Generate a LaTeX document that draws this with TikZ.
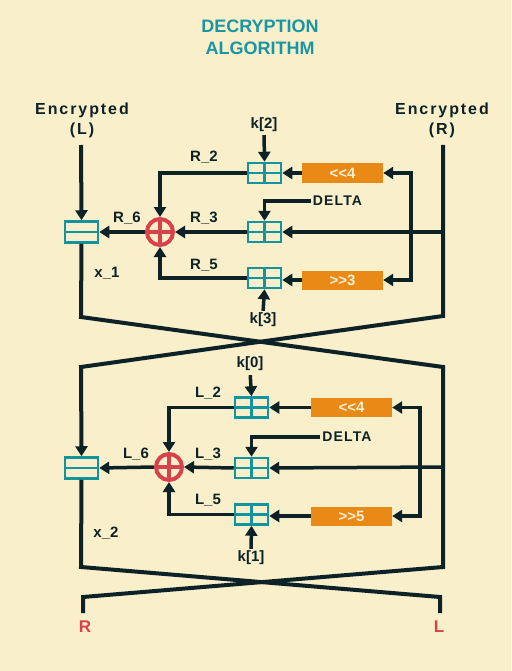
\documentclass[tikz,border=0pt]{standalone}
\usepackage{fontspec}
\setmainfont{Liberation Sans}
\newfontfamily\spacedA{Liberation Sans}[LetterSpace=12]
\newfontfamily\spacedB{Liberation Sans}[LetterSpace=8]
\newfontfamily\plainf{Liberation Sans}[Ligatures=TeXOff]
\usetikzlibrary{arrows.meta}
\definecolor{bg}{HTML}{F9EFCB}
\definecolor{ink}{HTML}{0C2226}
\definecolor{tealc}{HTML}{12949E}
\definecolor{titlec}{HTML}{1996A2}
\definecolor{orng}{HTML}{E98A17}
\definecolor{redc}{HTML}{D8434B}
\definecolor{cream}{HTML}{F8EDD2}
\begin{document}
\begin{tikzpicture}[x=1pt,y=-1pt,
  wire/.style={draw=ink, line width=4pt},
  tip/.tip={Triangle[length=10pt,width=12pt]},
  conn/.style={draw=ink, line width=3.5pt, -tip},
  lbl/.style={text=ink, font=\fontsize{15}{18}\selectfont\bfseries, inner sep=0pt},
  enc/.style={text=ink, font=\fontsize{16}{20}\selectfont\bfseries\spacedA, align=center, inner sep=0pt},
  gridbox/.style={draw=tealc, line width=2.5pt, minimum width=33pt, minimum height=20pt, inner sep=0pt,
    path picture={\draw[tealc, line width=2.5pt]
      (path picture bounding box.north) -- (path picture bounding box.south)
      (path picture bounding box.west) -- (path picture bounding box.east);}},
  splitbox/.style={draw=tealc, line width=2.5pt, minimum width=33pt, minimum height=21pt, inner sep=0pt,
    path picture={\draw[tealc, line width=2.5pt]
      (path picture bounding box.west) -- (path picture bounding box.east);}},
  xorc/.style={circle, draw=redc, line width=4pt, minimum size=26pt, inner sep=0pt,
    path picture={\draw[redc, line width=3.5pt]
      (path picture bounding box.north) -- (path picture bounding box.south)
      (path picture bounding box.west) -- (path picture bounding box.east);}},
  shiftbox/.style={fill=orng, minimum width=81pt, minimum height=19pt, inner sep=0pt,
    text=cream, font=\fontsize{15}{18}\selectfont\plainf\bfseries},
  deltal/.style={text=ink, font=\fontsize{14}{16}\selectfont\bfseries\spacedB, inner sep=2pt},
  outl/.style={text=redc, font=\fontsize{17}{20}\selectfont\bfseries, inner sep=0pt}
]
\path[use as bounding box, fill=bg] (0,0) rectangle (511,671);

% title
\node[text=titlec, font=\fontsize{18}{22}\selectfont\bfseries, align=center] (title) at (260,37) {DECRYPTION\\ALGORITHM};

% inputs
\node[enc] (encL) at (82,120) {Encrypted\\(L)};
\node[enc] (encR) at (442,120) {Encrypted\\(R)};
\coordinate (lTop) at (81,145);
\coordinate (rTop) at (443,145);

% ---------- round 1 ----------
\node[splitbox] (boxL1) at (81.5,232) {};
\node[xorc] (xor1) at (160,232) {};
\node[gridbox] (g1a) at (264.5,173) {};
\node[gridbox] (g1b) at (264.5,232) {};
\node[gridbox] (g1c) at (264.5,278) {};
\node[shiftbox] (sh1a) at (342.5,173) {<<4};
\node[shiftbox] (sh1b) at (342.5,280) {>>3};
\node[deltal] (delta1) at (337.5,201) {DELTA};
\node[lbl] (k2) at (264,125) {k[2]};
\node[lbl] (k3) at (263,320) {k[3]};
\node[lbl] (R2) at (204,157) {R\_2};
\node[lbl] (R3) at (204,218) {R\_3};
\node[lbl] (R5) at (204,265) {R\_5};
\node[lbl] (R6) at (127,218) {R\_6};
\node[lbl] (x1) at (107,273) {x\_1};
\coordinate (rj1) at (443,232);
\coordinate (lp1) at (411,230);
\coordinate (c1a) at (81,317);
\coordinate (c1b) at (443,367);
\coordinate (c1c) at (443,316);
\coordinate (c1d) at (81,367);

% ---------- round 2 ----------
\node[splitbox] (boxL2) at (81.5,468) {};
\node[xorc] (xor2) at (169,467) {};
\node[gridbox] (g2a) at (251.5,407.5) {};
\node[gridbox] (g2b) at (251.5,468) {};
\node[gridbox] (g2c) at (251.5,514.5) {};
\node[shiftbox] (sh2a) at (351.5,407.5) {<<4};
\node[shiftbox] (sh2b) at (351.5,516) {>>5};
\node[deltal] (delta2) at (347,437) {DELTA};
\node[lbl] (k0) at (250,364) {k[0]};
\node[lbl] (k1) at (251,558) {k[1]};
\node[lbl] (L2) at (208,393) {L\_2};
\node[lbl] (L3) at (208,454) {L\_3};
\node[lbl] (L5) at (208,500) {L\_5};
\node[lbl] (L6) at (136,454) {L\_6};
\node[lbl] (x2) at (106,533) {x\_2};
\coordinate (rj2) at (443,467);
\coordinate (lp2) at (420,460);
\coordinate (c2a) at (81,567);
\coordinate (c2b) at (440,597);
\coordinate (c2c) at (440,613);
\coordinate (c2d) at (443,567);
\coordinate (c2e) at (83,597);
\coordinate (c2f) at (83,613);

% outputs
\node[outl] (outR) at (85,627) {R};
\node[outl] (outL) at (439,627) {L};

% ---------- wires ----------
\draw[wire, -tip] (lTop) -- (boxL1.north);
\draw[wire, line join=miter] (boxL1.south) -- (c1a) -- (c1b) -- (c2d) -- (c2e) -- (c2f);
\draw[wire, -tip, line join=miter] (rTop) -- (c1c) -- (c1d) -- (boxL2.north);
\draw[wire, line join=miter] (boxL2.south) -- (c2a) -- (c2b) -- (c2c);

% round 1 connectors
\draw[conn] (rj1) -- (g1b.east);
\draw[draw=ink, line width=3.5pt, tip-tip] (sh1a.east) -| (lp1) |- (sh1b.east);
\draw[conn] (sh1a.west) -- (g1a.east);
\draw[conn] (sh1b.west) -- (g1c.east |- sh1b.west);
\draw[conn, shorten <=3pt] (k2.south) -- (g1a.north);
\draw[conn, shorten <=2pt] (k3.north) -- (g1c.south);
\draw[conn] (delta1.west) -| (g1b.north);
\draw[conn] (g1a.west) -| (xor1.north);
\draw[conn] (g1b.west) -- (xor1.east);
\draw[conn] (g1c.west) -| (xor1.south);
\draw[conn] (xor1.west) -- (boxL1.east);

% round 2 connectors
\draw[conn] (rj2) -- (g2b.east);
\draw[draw=ink, line width=3.5pt, tip-tip] (sh2a.east) -| (lp2) |- (sh2b.east);
\draw[conn] (sh2a.west) -- (g2a.east);
\draw[conn] (sh2b.west) -- (g2c.east |- sh2b.west);
\draw[conn, shorten <=4pt] (k0.south) -- (g2a.north);
\draw[conn, shorten <=2pt] (k1.north) -- (g2c.south);
\draw[conn] (delta2.west) -| (g2b.north);
\draw[conn] (g2a.west) -| (xor2.north);
\draw[conn] (g2b.west) -- (xor2.east);
\draw[conn] (g2c.west) -| (xor2.south);
\draw[conn] (xor2.west) -- (boxL2.east);
\end{tikzpicture}
\end{document}
